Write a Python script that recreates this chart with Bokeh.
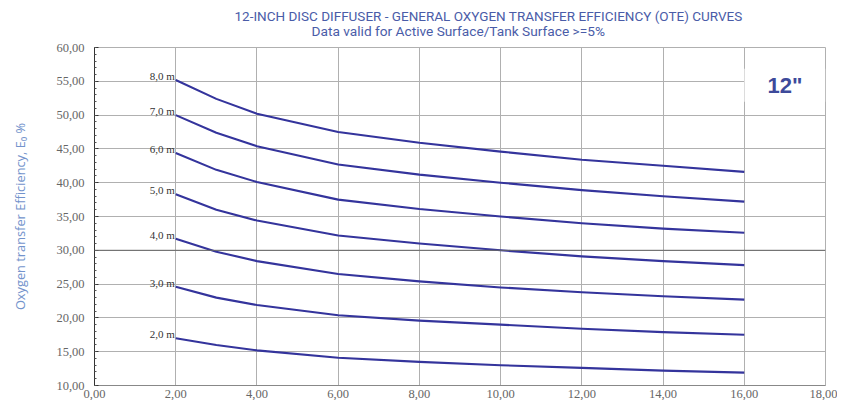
from bokeh.plotting import figure
from bokeh.models import FixedTicker, Range1d, Title, Label, Span
from bokeh.embed import file_html
from bokeh.resources import INLINE
from bokeh.core.properties import value

# ---- data ----
air_flow = [2, 3, 4, 6, 8, 10, 12, 14, 16]
depth_labels = ["8,0 m", "7,0 m", "6,0 m", "5,0 m", "4,0 m", "3,0 m", "2,0 m"]
ote_8m = [55.2, 52.4, 50.2, 47.5, 45.9, 44.6, 43.4, 42.5, 41.6]
ote_7m = [50.0, 47.4, 45.4, 42.7, 41.2, 40.0, 38.9, 38.0, 37.2]
ote_6m = [44.4, 41.9, 40.1, 37.5, 36.1, 35.0, 34.0, 33.2, 32.6]
ote_5m = [38.3, 36.0, 34.4, 32.2, 31.0, 30.0, 29.1, 28.4, 27.8]
ote_4m = [31.7, 29.8, 28.4, 26.5, 25.4, 24.5, 23.8, 23.2, 22.7]
ote_3m = [24.6, 23.0, 21.9, 20.4, 19.6, 19.0, 18.4, 17.9, 17.5]
ote_2m = [17.0, 16.0, 15.2, 14.1, 13.5, 13.0, 12.6, 12.2, 11.9]
series = [ote_8m, ote_7m, ote_6m, ote_5m, ote_4m, ote_3m, ote_2m]

x_ticks = [0, 2, 4, 6, 8, 10, 12, 14, 16, 18]
x_tick_labels = ["0,00", "2,00", "4,00", "6,00", "8,00", "10,00", "12,00", "14,00", "16,00", "18,00"]
y_ticks = [10, 15, 20, 25, 30, 35, 40, 45, 50, 55, 60]
y_tick_labels = ["10,00", "15,00", "20,00", "25,00", "30,00", "35,00", "40,00", "45,00", "50,00", "55,00", "60,00"]
y_minor = list(range(10, 61))
highlight_y = 30

title_text = "12-INCH DISC DIFFUSER - GENERAL OXYGEN TRANSFER EFFICIENCY (OTE) CURVES"
subtitle_text = "Data valid for Active Surface/Tank Surface >=5%"
ylabel_text = "Oxygen transfer Efficiency, E\u2080 %"
badge_text = '12"'

TITLE_COLOR = "#4a5ca8"
CURVE_COLOR = "#34349c"
GRID_COLOR = "#b0b0b0"
TICK_COLOR = "#666666"

p = figure(width=837, height=400, x_range=Range1d(0, 18), y_range=Range1d(10, 60),
           output_backend="svg", toolbar_location=None, title=None,
           min_border_left=94, min_border_right=12, min_border_top=47, min_border_bottom=15)
p.background_fill_color = "white"
p.border_fill_color = "white"
p.outline_line_color = GRID_COLOR

sub = Title(text=subtitle_text, align="left", vertical_align="top", offset=217, standoff=13.4,
            text_font="Roboto", text_font_size="13.7px", text_font_style="normal",
            text_color=TITLE_COLOR)
main = Title(text=title_text, align="left", vertical_align="bottom", offset=140, standoff=-15.2,
             text_font="Roboto", text_font_size="13.5px", text_font_style="normal",
             text_color=TITLE_COLOR)
p.add_layout(sub, "above")
p.add_layout(main, "above")

# axes
p.xaxis.ticker = FixedTicker(ticks=x_ticks)
p.xaxis.major_label_overrides = {t: l for t, l in zip(x_ticks, x_tick_labels)}
p.yaxis.ticker = FixedTicker(ticks=y_ticks, minor_ticks=y_minor)
p.yaxis.major_label_overrides = {t: l for t, l in zip(y_ticks, y_tick_labels)}
for ax in (p.xaxis[0], p.yaxis[0]):
    ax.major_label_text_font = "Liberation Serif"
    ax.major_label_text_font_size = "12.5px"
    ax.major_label_text_color = TICK_COLOR
p.xaxis.major_tick_out = 0
p.xaxis.major_tick_in = 0
p.xaxis.minor_tick_out = 0
p.xaxis.minor_tick_in = 0
p.xaxis.major_label_standoff = 4
p.xaxis.axis_line_color = "#888888"
p.yaxis.major_tick_out = 0
p.yaxis.major_tick_in = 4
p.yaxis.minor_tick_out = 0
p.yaxis.minor_tick_in = 2
p.yaxis.major_label_standoff = 10
p.yaxis.axis_line_color = "#333333"
p.yaxis.major_tick_line_color = "#333333"
p.yaxis.minor_tick_line_color = "#555555"
p.yaxis.axis_label = ylabel_text
p.yaxis.axis_label_text_font = "Open Sans"
p.yaxis.axis_label_text_font_size = "12.8px"
p.yaxis.axis_label_text_font_style = "normal"
p.yaxis.axis_label_text_color = "#7393cc"
p.yaxis.axis_label_standoff = 24

p.xgrid.ticker = FixedTicker(ticks=x_ticks)
p.ygrid.ticker = FixedTicker(ticks=y_ticks)
p.xgrid.grid_line_color = GRID_COLOR
p.ygrid.grid_line_color = GRID_COLOR

p.add_layout(Span(location=highlight_y, dimension="width", line_color="#666666", line_width=1))

for vals in series:
    p.line(air_flow, vals, line_color=CURVE_COLOR, line_width=2.1, line_join="round")

p.text(x=[air_flow[0]] * len(series), y=[s[0] for s in series], text=depth_labels,
       text_align="right", text_baseline="bottom", x_offset=-1, y_offset=2,
       text_font=value("Liberation Serif"), text_font_size="11px", text_color="#333333")

badge = Label(x=17, y=54.4, text=badge_text, text_align="center", text_baseline="middle",
              text_font="Liberation Sans", text_font_style="bold", text_font_size="22px",
              text_color="#3d4a9a", background_fill_color="white", background_fill_alpha=1.0,
              padding=dict(left=23, right=23, top=4, bottom=4))
p.add_layout(badge)

open("out.html", "w").write(file_html(p, INLINE))
